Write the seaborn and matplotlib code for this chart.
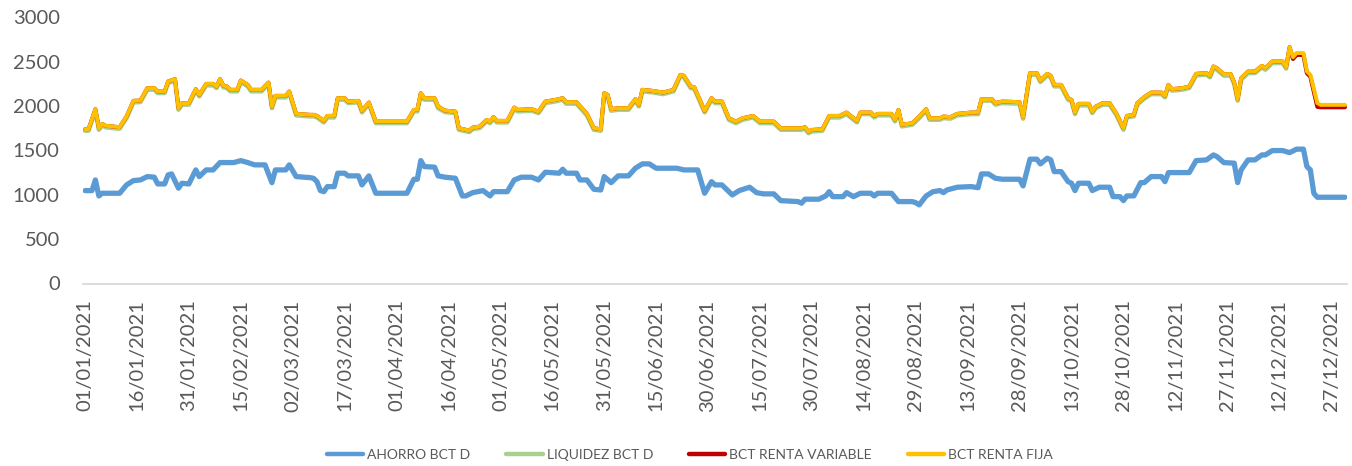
import matplotlib
matplotlib.use("Agg")
import matplotlib.pyplot as plt
import matplotlib.dates as mdates
import seaborn as sns
import pandas as pd

# ---------------- data (days counted from 01/01/2021) ----------------
series_names = ["AHORRO BCT D", "LIQUIDEZ BCT D", "BCT RENTA VARIABLE", "BCT RENTA FIJA"]

ahorro_days = [0, 2, 3, 4, 5, 10, 12, 14, 16, 18, 20, 21, 23, 24, 25, 27, 28, 30, 32, 33, 35, 37, 39, 43, 45, 47, 49, 52,
               54, 55, 58, 59, 61, 65, 66, 67, 68, 69, 70, 72, 73, 75, 76, 79, 80, 82, 84, 93, 95, 96, 97, 98, 101, 102,
               104, 107, 109, 110, 112, 115, 117, 118, 122, 124, 126, 129, 131, 133, 137, 138, 139, 142, 143, 145, 147,
               149, 150, 152, 154, 157, 159, 161, 163, 165, 171, 173, 177, 179, 181, 182, 184, 187, 189, 192, 194, 196,
               199, 201, 206, 207, 208, 212, 214, 215, 216, 219, 220, 222, 224, 227, 228, 229, 233, 235, 239, 240, 241,
               243, 245, 247, 248, 249, 252, 256, 258, 259, 261, 263, 265, 270, 271, 273, 275, 276, 278, 279, 280, 282,
               284, 285, 286, 287, 290, 291, 293, 296, 297, 299, 300, 301, 303, 305, 306, 308, 311, 312, 313, 319, 321,
               324, 326, 327, 329, 332, 333, 334, 336, 338, 340, 341, 343, 346, 348, 350, 352, 353, 354, 355, 356, 364]
ahorro_values = [1047, 1047, 1167, 987, 1017, 1017, 1111, 1160, 1167, 1205, 1198, 1122, 1122, 1224, 1235, 1074, 1130, 1122,
                 1280, 1205, 1280, 1280, 1363, 1363, 1385, 1363, 1337, 1337, 1137, 1280, 1280, 1337, 1205, 1193, 1186,
                 1148, 1047, 1035, 1092, 1092, 1243, 1243, 1213, 1213, 1111, 1213, 1017, 1017, 1175, 1175, 1385, 1318,
                 1311, 1213, 1198, 1186, 987, 987, 1024, 1047, 987, 1035, 1035, 1167, 1198, 1198, 1167, 1254, 1243, 1288,
                 1243, 1243, 1167, 1167, 1062, 1054, 1205, 1137, 1213, 1213, 1299, 1348, 1348, 1299, 1299, 1280, 1280,
                 1017, 1148, 1111, 1111, 998, 1047, 1085, 1024, 1010, 1010, 934, 923, 905, 950, 950, 987, 1035, 979, 979,
                 1024, 979, 1017, 1017, 987, 1017, 1017, 923, 923, 911, 886, 987, 1035, 1047, 1024, 1054, 1085, 1092,
                 1080, 1235, 1235, 1186, 1175, 1175, 1100, 1401, 1401, 1348, 1412, 1393, 1261, 1261, 1148, 1130, 1047,
                 1130, 1130, 1047, 1085, 1085, 979, 979, 934, 987, 987, 1137, 1137, 1205, 1205, 1148, 1250, 1250, 1385,
                 1393, 1449, 1431, 1363, 1356, 1137, 1280, 1393, 1393, 1449, 1449, 1498, 1498, 1475, 1514, 1514, 1318,
                 1280, 1017, 972, 972]

fija_days = [0, 1, 3, 4, 5, 6, 10, 12, 14, 16, 18, 20, 21, 23, 24, 26, 27, 28, 30, 32, 33, 35, 37, 38, 39, 40, 41, 42, 44,
             45, 47, 48, 51, 53, 54, 55, 58, 59, 61, 65, 66, 67, 69, 70, 72, 73, 75, 76, 79, 80, 82, 84, 93, 95, 96, 97,
             98, 101, 102, 104, 107, 108, 111, 112, 114, 116, 117, 118, 119, 122, 124, 125, 129, 131, 133, 136, 138, 139,
             142, 145, 147, 149, 150, 151, 152, 154, 157, 159, 160, 161, 164, 167, 170, 172, 173, 175, 176, 179, 181,
             182, 184, 186, 188, 190, 193, 195, 199, 201, 207, 208, 209, 210, 213, 215, 218, 220, 223, 224, 227, 228,
             229, 233, 234, 235, 236, 239, 241, 243, 244, 247, 248, 250, 252, 256, 258, 259, 262, 263, 265, 270, 271,
             273, 275, 276, 278, 279, 280, 282, 284, 285, 286, 287, 290, 291, 292, 294, 296, 298, 300, 301, 303, 304,
             306, 308, 311, 312, 313, 314, 317, 319, 321, 324, 325, 326, 327, 329, 331, 332, 333, 334, 336, 338, 340,
             341, 343, 346, 347, 348, 349, 350, 352, 353, 354, 356, 357, 364]
fija_values = [1739, 1739, 1965, 1750, 1799, 1777, 1762, 1882, 2059, 2062, 2202, 2202, 2164, 2164, 2277, 2304, 1976, 2033,
               2033, 2191, 2126, 2250, 2250, 2220, 2304, 2228, 2220, 2183, 2183, 2288, 2239, 2183, 2183, 2265, 1994, 2115,
               2115, 2164, 1912, 1901, 1901, 1889, 1833, 1889, 1889, 2089, 2089, 2051, 2059, 1946, 2040, 1825, 1825, 1957,
               1957, 2145, 2089, 2089, 1994, 1949, 1938, 1750, 1724, 1757, 1769, 1844, 1825, 1875, 1833, 1833, 1983, 1957,
               1965, 1938, 2051, 2070, 2089, 2044, 2044, 1912, 1750, 1739, 2145, 2126, 1965, 1976, 1976, 2078, 2013, 2183,
               2171, 2152, 2183, 2352, 2341, 2220, 2213, 1946, 2089, 2051, 2051, 1863, 1825, 1863, 1889, 1825, 1825, 1750,
               1750, 1762, 1712, 1731, 1739, 1889, 1889, 1927, 1833, 1927, 1927, 1889, 1912, 1912, 1844, 1957, 1788, 1807,
               1882, 1965, 1863, 1863, 1882, 1875, 1912, 1927, 1927, 2078, 2078, 2033, 2051, 2044, 1875, 2371, 2371, 2288,
               2363, 2341, 2239, 2239, 2089, 2070, 1927, 2025, 2025, 1938, 1994, 2033, 2033, 1912, 1750, 1889, 1901, 2033,
               2100, 2152, 2152, 2115, 2239, 2191, 2202, 2220, 2363, 2371, 2341, 2446, 2427, 2360, 2360, 2265, 2078, 2314,
               2389, 2389, 2453, 2427, 2502, 2502, 2439, 2664, 2551, 2597, 2597, 2389, 2352, 2033, 2013, 2013]

liquidez_days = fija_days
liquidez_values = [1721, 1721, 1947, 1732, 1781, 1759, 1744, 1864, 2041, 2044, 2184, 2184, 2146, 2146, 2259, 2286, 1958,
                   2015, 2015, 2173, 2108, 2232, 2232, 2202, 2286, 2210, 2202, 2165, 2165, 2270, 2221, 2165, 2165, 2247,
                   1976, 2097, 2097, 2146, 1894, 1883, 1883, 1871, 1815, 1871, 1871, 2071, 2071, 2033, 2041, 1928, 2022,
                   1807, 1807, 1939, 1939, 2127, 2071, 2071, 1976, 1931, 1920, 1732, 1706, 1739, 1751, 1826, 1807, 1857,
                   1815, 1815, 1965, 1939, 1947, 1920, 2033, 2052, 2071, 2026, 2026, 1894, 1732, 1721, 2127, 2108, 1947,
                   1958, 1958, 2060, 1995, 2165, 2153, 2134, 2165, 2334, 2323, 2202, 2195, 1928, 2071, 2033, 2033, 1845,
                   1807, 1845, 1871, 1807, 1807, 1732, 1732, 1744, 1694, 1713, 1721, 1871, 1871, 1909, 1815, 1909, 1909,
                   1871, 1894, 1894, 1826, 1939, 1770, 1789, 1864, 1947, 1845, 1845, 1864, 1857, 1894, 1909, 1909, 2060,
                   2060, 2015, 2033, 2026, 1857, 2353, 2353, 2270, 2345, 2323, 2221, 2221, 2071, 2052, 1909, 2007, 2007,
                   1920, 1976, 2015, 2015, 1894, 1732, 1871, 1883, 2015, 2082, 2134, 2134, 2097, 2221, 2173, 2184, 2202,
                   2345, 2353, 2323, 2428, 2409, 2342, 2342, 2247, 2060, 2296, 2371, 2371, 2435, 2409, 2484, 2484, 2421,
                   2646, 2533, 2579, 2579, 2371, 2334, 2015, 1995, 1995]

variable_days = fija_days
variable_values = [1739, 1739, 1965, 1750, 1799, 1777, 1762, 1882, 2059, 2062, 2202, 2202, 2164, 2164, 2277, 2304, 1976,
                   2033, 2033, 2191, 2126, 2250, 2250, 2220, 2304, 2228, 2220, 2183, 2183, 2288, 2239, 2183, 2183, 2265,
                   1994, 2115, 2115, 2164, 1912, 1901, 1901, 1889, 1833, 1889, 1889, 2089, 2089, 2051, 2059, 1946, 2040,
                   1825, 1825, 1957, 1957, 2145, 2089, 2089, 1994, 1949, 1938, 1750, 1724, 1757, 1769, 1844, 1825, 1875,
                   1833, 1833, 1983, 1957, 1965, 1938, 2051, 2070, 2089, 2044, 2044, 1912, 1750, 1739, 2145, 2126, 1965,
                   1976, 1976, 2078, 2013, 2183, 2171, 2152, 2183, 2352, 2341, 2220, 2213, 1946, 2089, 2051, 2051, 1863,
                   1825, 1863, 1889, 1825, 1825, 1750, 1750, 1762, 1712, 1731, 1739, 1889, 1889, 1927, 1833, 1927, 1927,
                   1889, 1912, 1912, 1844, 1957, 1788, 1807, 1882, 1965, 1863, 1863, 1882, 1875, 1912, 1927, 1927, 2078,
                   2078, 2033, 2051, 2044, 1875, 2371, 2371, 2288, 2363, 2341, 2239, 2239, 2089, 2070, 1927, 2025, 2025,
                   1938, 1994, 2033, 2033, 1912, 1750, 1889, 1901, 2033, 2100, 2152, 2152, 2115, 2239, 2191, 2202, 2220,
                   2363, 2371, 2341, 2446, 2427, 2360, 2360, 2265, 2078, 2314, 2389, 2389, 2453, 2427, 2502, 2502, 2439,
                   2664, 2530, 2575, 2575, 2370, 2330, 1990, 1985, 1985]

y_ticks = [0, 500, 1000, 1500, 2000, 2500, 3000]
start_date = "2021-01-01"
end_date = "2021-12-31"
tick_step_days = 15

# ---------------- build frame ----------------
origin = pd.Timestamp(start_date)
frames = []
for name, days, vals in [
    (series_names[0], ahorro_days, ahorro_values),
    (series_names[1], liquidez_days, liquidez_values),
    (series_names[2], variable_days, variable_values),
    (series_names[3], fija_days, fija_values),
]:
    frames.append(pd.DataFrame({
        "fecha": origin + pd.to_timedelta(days, unit="D"),
        "valor": vals,
        "serie": name,
    }))
df = pd.concat(frames, ignore_index=True)

colors = {series_names[0]: "#5B9BD5", series_names[1]: "#A9D18E",
          series_names[2]: "#C00000", series_names[3]: "#FFC000"}
widths = {series_names[0]: 3.8, series_names[1]: 3.2, series_names[2]: 2.8, series_names[3]: 2.8}

sns.set_theme(style="white")
plt.rcParams["font.family"] = ["Lato", "DejaVu Sans"]

fig = plt.figure(figsize=(13.52, 4.66), dpi=100)
ax = fig.add_axes([83.3 / 1352, 1 - 283.5 / 466, (1346.7 - 83.3) / 1352, (283.5 - 17.3) / 466])

for name in series_names:
    sub = df[df["serie"] == name]
    sns.lineplot(data=sub, x="fecha", y="valor", ax=ax, color=colors[name],
                 linewidth=widths[name], label=name, estimator=None, sort=True,
                 solid_joinstyle="round", solid_capstyle="round")

ax.set_ylim(0, 3000)
ax.set_yticks(y_ticks)
ax.set_xlim(origin - pd.Timedelta(hours=12), pd.Timestamp(end_date) + pd.Timedelta(hours=12))
ax.set_xticks(pd.date_range(start_date, end_date, freq=f"{tick_step_days}D"))
ax.xaxis.set_major_formatter(mdates.DateFormatter("%d/%m/%Y"))
ax.set_xlabel("")
ax.set_ylabel("")
ax.grid(False)

for s in ["top", "right", "left"]:
    ax.spines[s].set_visible(False)
ax.spines["bottom"].set_color("#D9D9D9")
ax.spines["bottom"].set_linewidth(1.3)

ax.tick_params(axis="x", length=0, pad=11.5, labelsize=14.5, labelcolor="#595959", labelrotation=90)
ax.tick_params(axis="y", length=0, pad=17, labelsize=14.5, labelcolor="#595959")

ax.get_legend().remove()
handles, labels = ax.get_legend_handles_labels()
leg = fig.legend(handles, labels, loc="center", bbox_to_anchor=(690 / 1352, 1 - 455 / 466),
                 ncol=4, frameon=False, handlelength=2.6, handletextpad=0.3, columnspacing=2.6,
                 prop={"family": ["Liberation Sans Narrow", "Lato"], "size": 10})
for t in leg.get_texts():
    t.set_color("#595959")
for h in leg.get_lines():
    h.set_linewidth(3.2)

fig.savefig("out.png", dpi=100)
